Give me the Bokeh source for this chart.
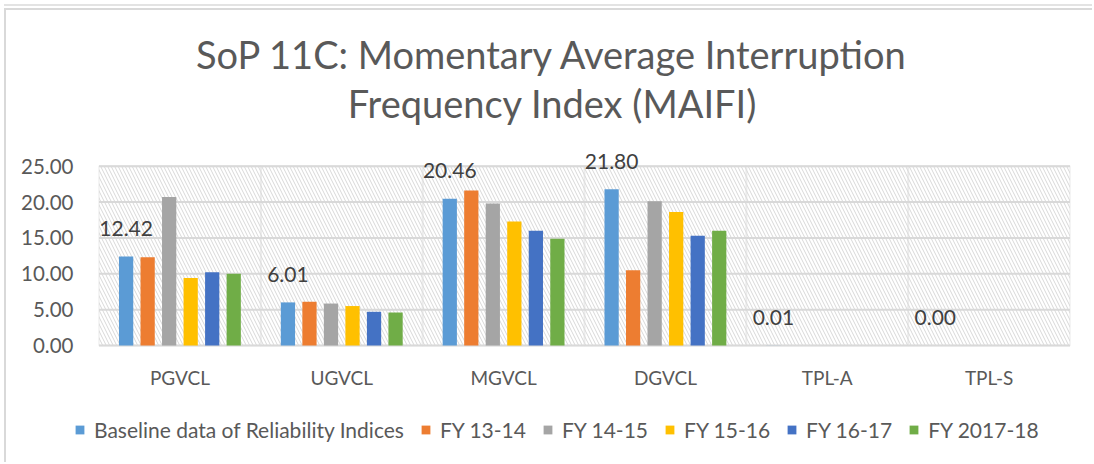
from bokeh.plotting import figure
from bokeh.models import (ColumnDataSource, FactorRange, FixedTicker, NumeralTickFormatter,
                          BoxAnnotation, Label, Legend, LegendItem)
from bokeh.transform import dodge
from bokeh.embed import file_html
from bokeh.resources import INLINE
from bokeh.core.properties import value

categories = ["PGVCL", "UGVCL", "MGVCL", "DGVCL", "TPL-A", "TPL-S"]
series_names = ["Baseline data of Reliability Indices", "FY 13-14", "FY 14-15",
                "FY 15-16", "FY 16-17", "FY 2017-18"]
baseline = [12.42, 6.01, 20.46, 21.80, 0.01, 0.00]
fy13_14 = [12.3, 6.1, 21.6, 10.5, 0, 0]
fy14_15 = [20.7, 5.85, 19.8, 20.1, 0, 0]
fy15_16 = [9.4, 5.5, 17.3, 18.6, 0, 0]
fy16_17 = [10.2, 4.7, 16.0, 15.3, 0, 0]
fy17_18 = [10.0, 4.6, 14.9, 16.0, 0, 0]
colors = ["#5B9BD5", "#ED7D31", "#A5A5A5", "#FFC000", "#4472C4", "#70AD47"]
y_ticks = [0, 5, 10, 15, 20, 25]
y_max = 25
title_lines = ["SoP 11C: Momentary Average Interruption", "Frequency Index (MAIFI)"]

FONT = "Lato"
TXT = "#595959"
GRID = "#d9d9d9"

OX, OY = 6, 10                 # offset of the canvas inside the bordered box
W, H = 1094 - OX, 464 - OY
cat_px = 161.83
ppu = 7.172                    # pixels per y unit
zero_px = 345 - OY             # canvas y of value 0

data = dict(cat=categories, zero=[0] * len(categories),
            s0=baseline, s1=fy13_14, s2=fy14_15, s3=fy15_16, s4=fy16_17, s5=fy17_18,
            lbl=["%.2f" % v for v in baseline])
src = ColumnDataSource(data)

xr = FactorRange(*categories, range_padding=24.5 / cat_px, range_padding_units="absolute")
p = figure(x_range=xr, y_range=(-(H - zero_px) / ppu, zero_px / ppu), width=W, height=H,
           output_backend="svg", toolbar_location=None,
           min_border_left=74 - OX, min_border_right=0, min_border_top=0, min_border_bottom=0,
           styles={"margin-left": "4px", "margin-top": "8px",
                   "border-left": "2px solid #d9d9d9", "border-top": "2px solid #d9d9d9",
                   "box-shadow": "0 -2px 0 0 #ffffff, 0 -4px 0 0 #e3e3e3"})
p.outline_line_color = None
p.background_fill_color = "white"
p.border_fill_color = "white"
p.xaxis.visible = False
p.xgrid.grid_line_color = None
p.ygrid.grid_line_color = None

for i in range(len(categories)):
    p.add_layout(BoxAnnotation(left=i, right=i + 1, bottom=0, top=y_max, fill_alpha=0,
                               line_color=GRID, line_width=2, hatch_pattern="\\",
                               hatch_color="#d8d8d8", hatch_scale=7, hatch_weight=1,
                               level="underlay"))
p.segment(x0=[0] * len(y_ticks), x1=[len(categories)] * len(y_ticks), y0=y_ticks, y1=y_ticks,
          line_color=GRID, line_width=2, level="underlay")

pitch = 0.133
bw = 0.088
renderers = []
for k in range(6):
    off = (k - 2.5) * pitch
    r = p.vbar(x=dodge("cat", off, range=p.x_range), top="s%d" % k, width=bw, source=src,
               color=colors[k], line_color=None)
    renderers.append(r)

# data labels (first series only)
p.text(x=dodge("cat", -2.5 * pitch, range=p.x_range), y="s0", text="lbl", source=src,
       y_offset=-28, text_align="center", text_baseline="middle",
       text_font=value(FONT), text_font_size="21px", text_color="#404040")

# category labels
p.text(x="cat", y="zero", text="cat", source=src, y_offset=32, text_align="center",
       text_baseline="middle", text_font=value(FONT), text_font_size="19px", text_color=TXT)

p.yaxis.ticker = FixedTicker(ticks=y_ticks)
p.yaxis.formatter = NumeralTickFormatter(format="0.00")
ax = p.yaxis[0]
ax.axis_line_color = None
ax.major_tick_line_color = None
ax.minor_tick_line_color = None
ax.major_tick_out = 0
ax.major_tick_in = 0
ax.major_label_text_font = FONT
ax.major_label_text_font_size = "20.5px"
ax.major_label_text_color = TXT
ax.major_label_standoff = 1

for i, t in enumerate(title_lines):
    p.add_layout(Label(x=478, y=H - 43 - 49 * i, x_units="screen", y_units="screen", text=t,
                       text_align="center", text_baseline="middle", text_font=FONT,
                       text_font_size="38px", text_color=TXT))

legend = Legend(items=[LegendItem(label=series_names[k], renderers=[renderers[k]]) for k in range(6)],
                orientation="horizontal", location=(0, 22), padding=0, margin=0,
                glyph_width=11, glyph_height=11, label_standoff=9, spacing=16,
                label_text_font=FONT, label_text_font_size="21px", label_text_color=TXT,
                border_line_color=None, background_fill_alpha=0)
p.add_layout(legend, "center")

open("out.html", "w").write(file_html(p, INLINE))
